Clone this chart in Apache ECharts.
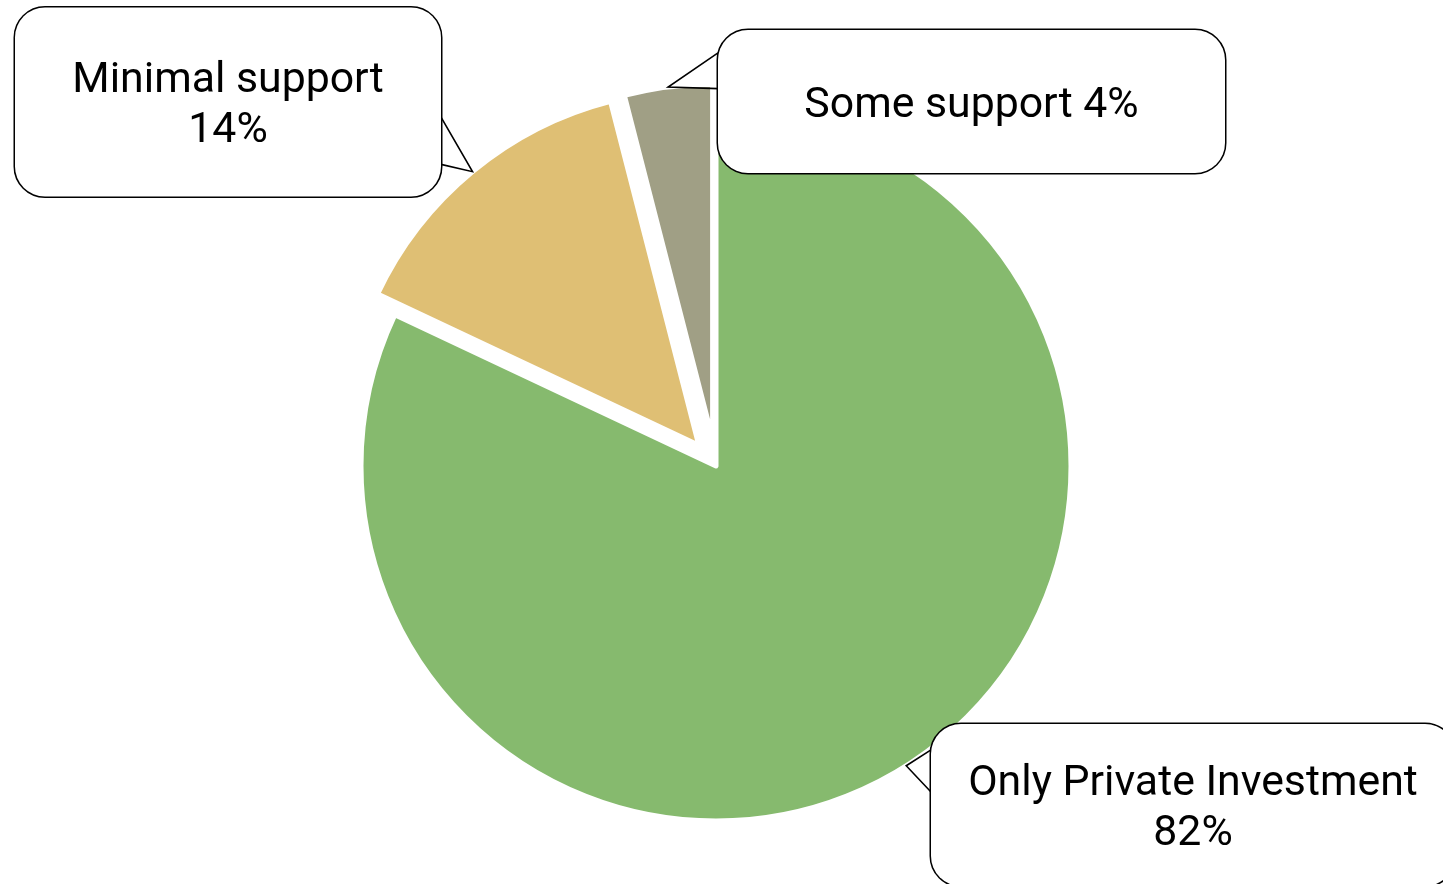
<!DOCTYPE html>
<html>
<head>
<meta charset="utf-8">
<script src="https://cdn.jsdelivr.net/npm/echarts@6/dist/echarts.min.js"></script>
<style>
  html, body { margin: 0; padding: 0; background: #ffffff; }
  #chart { width: 1443px; height: 884px; }
</style>
</head>
<body>
<div id="chart"></div>
<script>
// Funding mix of projects
const categories = ['Only Private Investment', 'Minimal support', 'Some support'];
const shares = [82, 14, 4];
const sliceColors = ['#86BA6E', '#DFBF74', '#A09F85'];
const exploded = [false, true, true];

// Speech-bubble callouts: box centre and size, the edge the tail leaves from,
// and where the tail meets that edge (as fractions of the box height).
const callouts = [
  { cx: 1193, cy: 805, w: 524, h: 162, lines: 2, side: 'left',  tail: [0.16, 0.42] },
  { cx: 228,  cy: 102, w: 426, h: 189, lines: 2, side: 'right', tail: [0.58, 0.83] },
  { cx: 971.5, cy: 101.5, w: 507, h: 143, lines: 1, side: 'left', tail: [0.16, 0.41] }
];

const LINE_H = 50;
const TEXT_DROP = 4.5;      // optical centring of the text inside the bubble
const OFFSET = 27;          // how far exploded slices are pulled out
const PIE_CENTER = [716, 466];
const PIE_RADIUS = 355;

const chart = echarts.init(document.getElementById('chart'), null, { renderer: 'canvas' });

// Visible slices
const sliceData = categories.map(function (name, i) {
  return {
    name: name,
    value: shares[i],
    selected: exploded[i],
    itemStyle: { color: sliceColors[i] }
  };
});

// Same slices, unpainted, carrying the callout labels
const calloutData = categories.map(function (name, i) {
  const c = callouts[i];
  const padV = (c.h - c.lines * LINE_H) / 2;
  return {
    name: name,
    value: shares[i],
    label: {
      formatter: c.lines === 2 ? '{b}\n{c}%' : '{b} {c}%',
      width: c.w,
      padding: [padV + TEXT_DROP, 0, padV - TEXT_DROP, 0]
    }
  };
});

chart.setOption({
  animation: false,
  backgroundColor: '#ffffff',
  series: [{
    type: 'pie',
    z: 2,
    center: PIE_CENTER,
    radius: PIE_RADIUS,
    startAngle: 90,
    clockwise: true,
    selectedMode: 'multiple',
    selectedOffset: OFFSET,
    silent: true,
    itemStyle: { borderColor: '#ffffff', borderWidth: 5 },
    emphasis: { disabled: true },
    label: { show: false },
    labelLine: { show: false },
    data: sliceData
  }, {
    type: 'pie',
    z: 5,
    center: PIE_CENTER,
    radius: PIE_RADIUS,
    startAngle: 90,
    clockwise: true,
    silent: true,
    avoidLabelOverlap: false,
    itemStyle: { color: 'rgba(0,0,0,0)', borderWidth: 0 },
    emphasis: { disabled: true },
    label: {
      show: true,
      position: 'outside',
      alignTo: 'none',
      fontFamily: 'Roboto',
      fontSize: 42.8,
      lineHeight: LINE_H,
      color: '#000000',
      align: 'center',
      overflow: 'none',
      backgroundColor: '#ffffff',
      borderColor: '#000000',
      borderWidth: 1.5,
      borderRadius: 30
    },
    labelLine: {
      show: true,
      length: OFFSET,
      length2: 10,
      smooth: false,
      lineStyle: { color: '#000000', width: 1.6 }
    },
    labelLayout: function (p) {
      const c = callouts[p.dataIndex];
      const left = c.cx - c.w / 2;
      const top = c.cy - c.h / 2;
      const edgeX = c.side === 'left' ? left : left + c.w;
      // top-anchored so the padding can place the text inside the bubble
      const out = { x: c.cx, y: top, align: 'center', verticalAlign: 'top' };
      const pts = p.labelLinePoints;
      if (pts && pts.length > 1) {
        // tail tip: arc midpoint, pushed out with the slice when it is exploded
        const tip = exploded[p.dataIndex] ? pts[1] : pts[0];
        out.labelLinePoints = [
          [edgeX, top + c.h * c.tail[0]],
          [tip[0], tip[1]],
          [edgeX, top + c.h * c.tail[1]]
        ];
      }
      return out;
    },
    data: calloutData
  }]
});
</script>
</body>
</html>
